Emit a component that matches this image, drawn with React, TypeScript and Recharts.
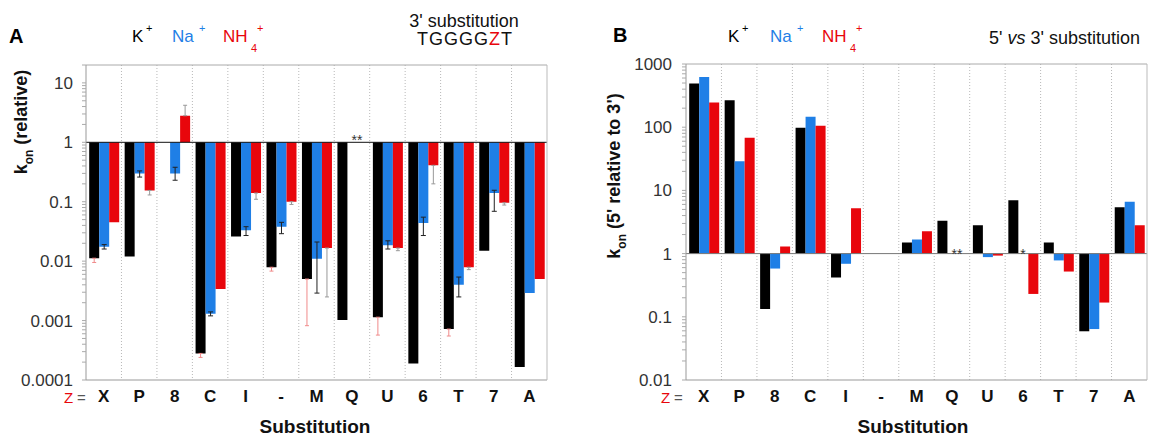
import React from 'react';
import { BarChart, Bar, XAxis, YAxis, CartesianGrid, ReferenceLine, ReferenceDot, ErrorBar } from 'recharts';

const categories = ['X', 'P', '8', 'C', 'I', '-', 'M', 'Q', 'U', '6', 'T', '7', 'A'];

// Panel A: k_on relative (3' substitution)
const kA = [0.0112, 0.012, 1, 0.00028, 0.026, 0.0079, 0.005, 0.00102, 0.00114, 0.00019, 0.00072, 0.015, 0.000166];
const naA = [0.0174, 0.3, 0.3, 0.0013, 0.033, 0.038, 0.011, null, 0.0186, 0.044, 0.004, 0.14, 0.0029];
const nh4A = [0.045, 0.155, 2.8, 0.0034, 0.14, 0.1, 0.0166, null, 0.0166, 0.41, 0.0079, 0.096, 0.005];
// error bounds [low, high]
const kErrA = [[0.0095, 0.0112], null, [0.44, 1.6], [0.00024, 0.00028], null, [0.0068, 0.0079], [0.00082, 0.005], null, [0.00057, 0.00114], null, [0.00055, 0.00072], null, null];
const naErrA = [[0.016, 0.019], [0.26, 0.33], [0.23, 0.38], [0.0012, 0.0014], [0.027, 0.038], [0.029, 0.045], [0.0029, 0.021], null, [0.016, 0.022], [0.027, 0.055], [0.0025, 0.0054], [0.069, 0.156], null];
const nh4ErrA = [null, [0.13, 0.155], [2.8, 4.2], null, [0.11, 0.14], [0.09, 0.1], [0.0025, 0.0166], null, [0.015, 0.0166], [0.2, 0.41], [0.0072, 0.0079], [0.088, 0.096], null];

// Panel B: k_on (5' relative to 3')
const kB = [490, 268, 0.133, 98, 0.42, null, 1.5, 3.3, 2.8, 7.0, 1.5, 0.059, 5.4];
const naB = [625, 29, 0.58, 147, 0.69, null, 1.67, null, 0.88, null, 0.78, 0.064, 6.6];
const nh4B = [245, 68, 1.3, 105, 5.2, null, 2.25, null, 0.93, 0.23, 0.52, 0.168, 2.8];

const majorTicksA = [0.0001, 0.001, 0.01, 0.1, 1, 10];
const majorTicksB = [0.01, 0.1, 1, 10, 100, 1000];
const domainA = [0.0001, 20];
const domainB = [0.01, 1000];

const C_K = '#000000';
const C_NA = '#1f7fe6';
const C_NH4 = '#e8060c';
const FONT = '"Liberation Sans", Arial, Helvetica, sans-serif';

type Bounds = number[] | null;

function toDelta(v: number | null, b: Bounds) {
  if (v == null || !b) return null;
  return [Math.max(0, v - b[0]), Math.max(0, b[1] - v)];
}

function buildRows(k: (number | null)[], na: (number | null)[], nh4: (number | null)[], kE?: Bounds[], naE?: Bounds[], nh4E?: Bounds[]) {
  return categories.map((cat, i) => ({
    cat,
    k: k[i] == null ? null : [1, k[i]],
    na: na[i] == null ? null : [1, na[i]],
    nh4: nh4[i] == null ? null : [1, nh4[i]],
    kErr: kE ? toDelta(k[i], kE[i]) : null,
    naErr: naE ? toDelta(na[i], naE[i]) : null,
    nh4Err: nh4E ? toDelta(nh4[i], nh4E[i]) : null,
  }));
}

const rowsA = buildRows(kA, naA, nh4A, kErrA, naErrA, nh4ErrA);
const rowsB = buildRows(kB, naB, nh4B);

function withMinor(majors: number[], top: number) {
  const out: number[] = [];
  majors.forEach((m) => {
    out.push(m);
    for (let j = 2; j <= 9; j++) {
      const v = m * j;
      if (v <= top * 1.0001) out.push(v);
    }
  });
  return out.sort((a, b) => a - b);
}

const ticksA = withMinor(majorTicksA, domainA[1]);
const ticksB = withMinor(majorTicksB, domainB[1]);

const fmt = (majors: number[]) => (v: number) => (majors.includes(v) ? String(v) : '');

const CatTick = (props: any) => {
  const { x, y, payload } = props;
  return (
    <text x={x} y={y} dy={14} textAnchor="middle" fontFamily={FONT} fontWeight="bold" fontSize={17} fill="#111">
      {payload.value}
    </text>
  );
};

const gridGen = ({ offset }: any) => {
  const n = categories.length;
  const arr: number[] = [];
  for (let i = 1; i < n; i++) arr.push(offset.left + (i * offset.width) / n);
  return arr;
};

const starLabel = (text: string, dx: number, dy: number) => (p: any) => {
  const vb = p.viewBox || {};
  const cx = (vb.x || 0) + (vb.width || 0) / 2;
  const cy = (vb.y || 0) + (vb.height || 0) / 2;
  return (
    <text x={cx + dx} y={cy + dy} textAnchor="middle" fontFamily={FONT} fontSize={14} fill="#333">
      {text}
    </text>
  );
};

function Panel(props: { rows: any[]; ticks: number[]; majors: number[]; domain: number[]; width: number; yWidth: number; right: number; top: number; tickMargin: number; oneColor: string; stars: { cat: string; text: string; dx: number; dy: number }[]; errors: boolean }) {
  const { rows, ticks, majors, domain, width, yWidth, right, top, tickMargin, oneColor, stars, errors } = props;
  return (
    <BarChart width={width} height={440} data={rows} margin={{ top, right, bottom: 30, left: 0 }} barCategoryGap="9%" barGap={0}>
      <CartesianGrid horizontal={false} stroke="#b8b8b8" strokeDasharray="1 2" verticalCoordinatesGenerator={gridGen} />
      <XAxis dataKey="cat" height={30} interval={0} tickLine={false} axisLine={{ stroke: '#999' }} tick={<CatTick />} />
      <YAxis
        type="number"
        scale="log"
        domain={domain}
        allowDataOverflow
        ticks={ticks}
        interval={0}
        width={yWidth}
        tickSize={4}
        tickMargin={tickMargin}
        tickFormatter={fmt(majors)}
        axisLine={{ stroke: '#999' }}
        tickLine={{ stroke: '#aaa' }}
        tick={{ fontFamily: FONT, fontSize: 17, fill: '#333' }}
      />
      <YAxis
        yAxisId="r"
        orientation="right"
        type="number"
        scale="log"
        domain={domain}
        allowDataOverflow
        ticks={ticks}
        interval={0}
        width={6}
        tickSize={4}
        tick={false}
        axisLine={{ stroke: '#bbb' }}
        tickLine={{ stroke: '#bbb' }}
      />
      <ReferenceLine y={domain[1]} stroke="#aaa" />
      <Bar dataKey="k" fill={C_K} isAnimationActive={false}>
        {errors && <ErrorBar dataKey="kErr" width={2} stroke="#f08a8a" strokeWidth={1} direction="y" />}
      </Bar>
      <Bar dataKey="na" fill={C_NA} isAnimationActive={false}>
        {errors && <ErrorBar dataKey="naErr" width={2.5} stroke="#222" strokeWidth={1} direction="y" />}
      </Bar>
      <Bar dataKey="nh4" fill={C_NH4} isAnimationActive={false}>
        {errors && <ErrorBar dataKey="nh4Err" width={2} stroke="#999" strokeWidth={1} direction="y" />}
      </Bar>
      <ReferenceLine y={1} stroke={oneColor} strokeWidth={1} />
      {stars.map((s) => (
        <ReferenceDot key={s.cat} x={s.cat} y={1} r={0} stroke="none" fill="none" label={starLabel(s.text, s.dx, s.dy)} />
      ))}
    </BarChart>
  );
}

const txt = { fontFamily: FONT };

export default function App() {
  return (
    <div style={{ position: 'absolute', left: 0, top: 0, width: 1150, height: 440, background: '#fff', overflow: 'hidden' }}>
      <div style={{ position: 'absolute', left: 0, top: 0 }}>
        <Panel rows={rowsA} ticks={ticksA} majors={majorTicksA} domain={domainA} width={580} yWidth={86} right={27} top={65} tickMargin={9} oneColor="#111" stars={[{ cat: 'Q', text: '**', dx: 5, dy: 3 }]} errors={true} />
      </div>
      <div style={{ position: 'absolute', left: 580, top: 0 }}>
        <Panel rows={rowsB} ticks={ticksB} majors={majorTicksB} domain={domainB} width={570} yWidth={106} right={-3} top={64} tickMargin={10} oneColor="#777" stars={[{ cat: 'Q', text: '**', dx: 5, dy: 5 }, { cat: '6', text: '*', dx: 0, dy: 5 }]} errors={false} />
      </div>
      <svg width={1150} height={440} style={{ position: 'absolute', left: 0, top: 0, pointerEvents: 'none' }}>
        {/* Panel A texts */}
        <text x={9} y={43} {...txt} fontSize={20} fontWeight="bold">A</text>
        <text x={132} y={42} {...txt} fontSize={17} fill={C_K}>K</text>
        <text x={146} y={32} {...txt} fontSize={11} fill={C_K}>+</text>
        <text x={172} y={42} {...txt} fontSize={17} fill={C_NA}>Na</text>
        <text x={199} y={32} {...txt} fontSize={11} fill={C_NA}>+</text>
        <text x={223} y={42} {...txt} fontSize={17} fill={C_NH4}>NH</text>
        <text x={251} y={52} {...txt} fontSize={11} fill={C_NH4}>4</text>
        <text x={257} y={32} {...txt} fontSize={11} fill={C_NH4}>+</text>
        <text x={464} y={27} {...txt} fontSize={18} textAnchor="middle" fill="#111">3' substitution</text>
        <text x={465} y={45} {...txt} fontSize={18} textAnchor="middle" letterSpacing={1} fill="#111">
          TGGGG<tspan fill={C_NH4}>Z</tspan>T
        </text>
        <text transform="translate(27,122) rotate(-90)" {...txt} fontSize={18} fontWeight="bold" textAnchor="middle" fill="#111">
          k<tspan dy={6} fontSize={12}>on</tspan><tspan dy={-6}> (relative)</tspan>
        </text>
        <text x={64} y={403} {...txt} fontSize={15} fill={C_NH4}>Z</text>
        <text x={77} y={403} {...txt} fontSize={15} fill="#555">=</text>
        <text x={315} y={433} {...txt} fontSize={19} fontWeight="bold" textAnchor="middle" fill="#111">Substitution</text>

        {/* Panel B texts */}
        <text x={613} y={42} {...txt} fontSize={20} fontWeight="bold">B</text>
        <text x={728} y={42} {...txt} fontSize={17} fill={C_K}>K</text>
        <text x={742} y={32} {...txt} fontSize={11} fill={C_K}>+</text>
        <text x={770} y={42} {...txt} fontSize={17} fill={C_NA}>Na</text>
        <text x={797} y={32} {...txt} fontSize={11} fill={C_NA}>+</text>
        <text x={822} y={42} {...txt} fontSize={17} fill={C_NH4}>NH</text>
        <text x={850} y={52} {...txt} fontSize={11} fill={C_NH4}>4</text>
        <text x={856} y={32} {...txt} fontSize={11} fill={C_NH4}>+</text>
        <text x={1140} y={44} {...txt} fontSize={18} textAnchor="end" fill="#111">
          5' <tspan fontStyle="italic">vs</tspan> 3' substitution
        </text>
        <text transform="translate(620,176) rotate(-90)" {...txt} fontSize={18} fontWeight="bold" textAnchor="middle" fill="#111">
          k<tspan dy={6} fontSize={12}>on</tspan><tspan dy={-6}> (5' relative to 3')</tspan>
        </text>
        <text x={661} y={403} {...txt} fontSize={15} fill={C_NH4}>Z</text>
        <text x={674} y={403} {...txt} fontSize={15} fill="#555">=</text>
        <text x={913} y={433} {...txt} fontSize={19} fontWeight="bold" textAnchor="middle" fill="#111">Substitution</text>
      </svg>
    </div>
  );
}
